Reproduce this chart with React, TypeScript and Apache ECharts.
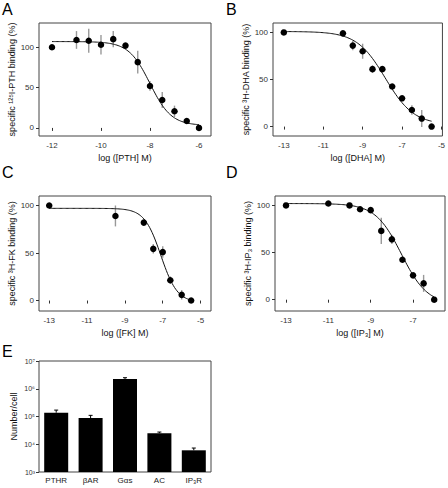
import React, { useEffect, useRef } from 'react';
import * as echarts from 'echarts';

const FONT = '"Liberation Sans", Arial, sans-serif';

// Panel A: 125I-PTH
const xA = [-12, -11, -10.5, -10, -9.5, -9, -8.5, -8, -7.5, -7, -6.5, -6];
const yA = [100, 109, 108, 103, 110, 102, 81.5, 52, 34.6, 20.6, 8.6, 0];
const eA = [0, 11, 15, 12, 10, 3, 14, 6, 10, 7, 3, 0];
// fit: [top, bottom, logIC50, hill, xStart, xEnd]
const fitA = [107, 3, -8.0, 1.0, -12, -6];

// Panel B: 3H-DHA
const xB = [-13, -10, -9.5, -9, -8.5, -8, -7.5, -7, -6.5, -6, -5.5];
const yB = [100, 99, 86, 80, 61, 61, 42.6, 30, 17.6, 8.5, 0];
const eB = [0, 0, 5, 8, 4, 0, 0, 2, 5, 9, 0];
const fitB = [101, 2, -7.85, 0.6, -13, -5.5];

// Panel C: 3H-FK
const xC = [-13, -9.5, -8, -7.5, -7, -6.6, -6, -5.5];
const yC = [100, 89, 82, 54.4, 51, 21.4, 6, 0];
const eC = [0, 11, 0, 5, 6, 4, 5, 0];
const fitC = [97, -2, -7.1, 1.0, -13, -5.5];

// Panel D: 3H-IP3
const xD = [-13, -11, -10, -9.5, -9, -8.5, -8, -7.5, -7, -6.5, -6];
const yD = [100, 102, 100, 96, 95, 73, 64, 42.4, 25.8, 17.3, 0];
const eD = [0, 0, 0, 3, 0, 14, 5, 0, 0, 9, 0];
const fitD = [102, -5, -7.55, 0.71, -13, -6];

// Panel E: copies per cell
const catsE = ['PTHR', 'βAR', 'Gαs', 'AC', 'IP₃R'];
const valsE = [137000, 88000, 2240000, 25000, 6050];
const errE = [33000, 22000, 260000, 2500, 1250];
const ticksE = [1e3, 1e4, 1e5, 1e6, 1e7];

const yNames = [
  'specific ¹²⁵I-PTH binding (%)',
  'specific ³H-DHA binding (%)',
  'specific ³H-FK binding (%)',
  'specific ³H-IP₃ binding (%)',
];
const xNames = ['log ([PTH] M)', 'log ([DHA] M)', 'log ([FK] M)', 'log ([IP₃] M)'];
const xTicks = [
  [-12, -10, -8, -6],
  [-13, -11, -9, -7, -5],
  [-13, -11, -9, -7, -5],
  [-13, -11, -9, -7],
];
const yTicks = [0, 50, 100];

const grids = [
  { left: 39, top: 23, width: 172, height: 113 },
  { left: 273, top: 23, width: 172, height: 113 },
  { left: 39, top: 196, width: 172, height: 115 },
  { left: 275, top: 196, width: 170, height: 115 },
  { left: 39, top: 361, width: 172, height: 111 },
];
const xRanges = [
  [-12.53, -5.51],
  [-13.55, -4.95],
  [-13.54, -4.45],
  [-13.52, -5.49],
];
const yRanges = [
  [-10, 130],
  [-10, 110],
  [-11, 110],
  [-12, 110],
];

const sup: Record<number, string> = { 3: '³', 4: '⁴', 5: '⁵', 6: '⁶', 7: '⁷' };

function curve(fit: number[]) {
  const [top, bottom, ic, hill, x0, x1] = fit;
  const pts: number[][] = [];
  const n = 120;
  for (let i = 0; i <= n; i++) {
    const x = x0 + ((x1 - x0) * i) / n;
    pts.push([x, bottom + (top - bottom) / (1 + Math.pow(10, hill * (x - ic)))]);
  }
  return pts;
}

function buildOption() {
  const panels = [
    { x: xA, y: yA, e: eA, fit: fitA },
    { x: xB, y: yB, e: eB, fit: fitB },
    { x: xC, y: yC, e: eC, fit: fitC },
    { x: xD, y: yD, e: eD, fit: fitD },
  ];
  const xAxis: any[] = [];
  const yAxis: any[] = [];
  const series: any[] = [];
  panels.forEach((p, i) => {
    xAxis.push({
      type: 'value',
      gridIndex: i,
      min: xRanges[i][0],
      max: xRanges[i][1],
      name: xNames[i],
      nameLocation: 'middle',
      nameGap: 17,
      nameTextStyle: { fontSize: 9, color: '#111', fontFamily: FONT },
      axisLine: { show: false },
      splitLine: { show: false },
      axisTick: { show: true, length: 3, customValues: xTicks[i], lineStyle: { color: '#333' } },
      axisLabel: { customValues: xTicks[i], fontSize: 8, color: '#333', margin: 5, fontFamily: FONT },
    });
    yAxis.push({
      type: 'value',
      gridIndex: i,
      min: yRanges[i][0],
      max: yRanges[i][1],
      name: yNames[i],
      nameLocation: 'middle',
      nameGap: 21,
      nameTextStyle: { fontSize: 9, color: '#111', fontFamily: FONT },
      axisLine: { show: false },
      splitLine: { show: false },
      axisTick: { show: true, length: 3, customValues: yTicks, lineStyle: { color: '#333' } },
      axisLabel: { customValues: yTicks, fontSize: 8, color: '#333', margin: 5, fontFamily: FONT },
    });
    const errData = p.x
      .map((xv, k) => [xv, p.y[k] - p.e[k], p.y[k] + p.e[k]])
      .filter((d, k) => p.e[k] > 0);
    series.push({
      type: 'custom',
      xAxisIndex: i,
      yAxisIndex: i,
      z: 1,
      encode: { x: 0, y: [1, 2] },
      data: errData,
      renderItem: (params: any, api: any) => {
        const a = api.coord([api.value(0), api.value(1)]);
        const b = api.coord([api.value(0), api.value(2)]);
        return {
          type: 'line',
          shape: { x1: a[0], y1: a[1], x2: b[0], y2: b[1] },
          style: { stroke: '#999', lineWidth: 1.4 },
        };
      },
    });
    series.push({
      type: 'line',
      xAxisIndex: i,
      yAxisIndex: i,
      z: 2,
      showSymbol: false,
      symbol: 'none',
      lineStyle: { color: '#111', width: 1 },
      data: curve(p.fit),
    });
    series.push({
      type: 'scatter',
      xAxisIndex: i,
      yAxisIndex: i,
      z: 3,
      symbolSize: 6.5,
      itemStyle: { color: '#000', opacity: 1 },
      data: p.x.map((xv, k) => [xv, p.y[k]]),
    });
  });

  // Panel E
  xAxis.push({
    type: 'category',
    gridIndex: 4,
    data: catsE,
    axisLine: { show: false },
    axisTick: { show: false },
    axisLabel: { fontSize: 8, color: '#222', margin: 4, fontFamily: FONT },
  });
  yAxis.push({
    type: 'log',
    logBase: 10,
    gridIndex: 4,
    min: 1e3,
    max: 1e7,
    name: 'Number/cell',
    nameLocation: 'middle',
    nameGap: 21,
    nameTextStyle: { fontSize: 9, color: '#111', fontFamily: FONT },
    axisLine: { show: false },
    splitLine: { show: false },
    axisTick: { show: true, length: 3, customValues: ticksE, lineStyle: { color: '#333' } },
    axisLabel: {
      customValues: ticksE,
      fontSize: 7,
      color: '#333',
      margin: 4,
      fontFamily: FONT,
      formatter: (v: number) => '10' + (sup[Math.round(Math.log10(v))] || ''),
    },
  });
  series.push({
    type: 'bar',
    xAxisIndex: 4,
    yAxisIndex: 4,
    barWidth: 24,
    itemStyle: { color: '#000' },
    data: valsE,
  });
  series.push({
    type: 'custom',
    xAxisIndex: 4,
    yAxisIndex: 4,
    z: 3,
    encode: { x: 0, y: [1, 2] },
    data: valsE.map((v, k) => [k, v, v + errE[k]]),
    renderItem: (params: any, api: any) => {
      const a = api.coord([api.value(0), api.value(1)]);
      const b = api.coord([api.value(0), api.value(2)]);
      return {
        type: 'group',
        children: [
          { type: 'line', shape: { x1: a[0], y1: a[1], x2: b[0], y2: b[1] }, style: { stroke: '#000', lineWidth: 1 } },
          { type: 'line', shape: { x1: b[0] - 2, y1: b[1], x2: b[0] + 2, y2: b[1] }, style: { stroke: '#000', lineWidth: 1 } },
        ],
      };
    },
  });

  const letters = [
    ['A', 2, 1],
    ['B', 226, 1],
    ['C', 2, 164],
    ['D', 226, 164],
    ['E', 2, 343],
  ];

  return {
    animation: false,
    textStyle: { fontFamily: FONT },
    grid: grids.map((g) => ({ ...g, show: true, borderColor: '#444', borderWidth: 1, containLabel: false })),
    xAxis,
    yAxis,
    series,
    graphic: letters.map(([t, x, y]) => ({
      type: 'text',
      left: x,
      top: y,
      style: { text: t, fontSize: 16, fontWeight: 'normal', fill: '#000', fontFamily: FONT },
    })),
  };
}

export default function App() {
  const ref = useRef<HTMLDivElement>(null);
  useEffect(() => {
    const chart = echarts.init(ref.current!, null, { renderer: 'svg' });
    chart.setOption(buildOption() as any);
    return () => chart.dispose();
  }, []);
  return <div ref={ref} style={{ position: 'fixed', left: 0, top: 0, width: 448, height: 488, background: '#fff' }} />;
}
